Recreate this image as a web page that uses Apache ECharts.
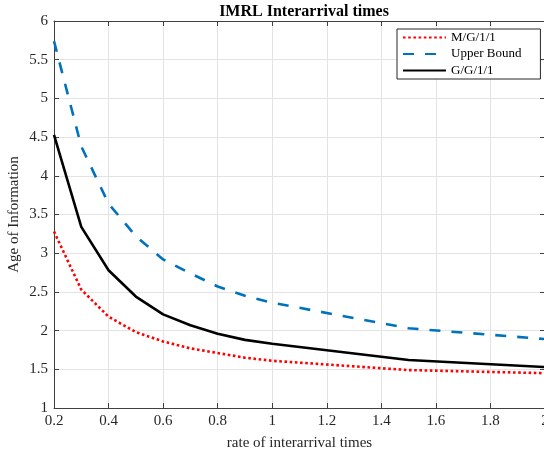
<!DOCTYPE html>
<html>
<head>
<meta charset="utf-8">
<script src="https://cdn.jsdelivr.net/npm/echarts@6/dist/echarts.min.js"></script>
<style>html,body{margin:0;padding:0;background:#fff;}#c{width:544px;height:457px;}</style>
</head>
<body>
<div id="c"></div>
<script>
var rates = [0.2, 0.3, 0.4, 0.5, 0.6, 0.7, 0.8, 0.9, 1.0, 1.5, 2.0];
var mg11 = [3.28, 2.53, 2.18, 1.98, 1.86, 1.77, 1.71, 1.65, 1.61, 1.49, 1.45];
var upperBound = [5.74, 4.38, 3.64, 3.22, 2.92, 2.74, 2.57, 2.45, 2.36, 2.03, 1.89];
var gg11 = [4.53, 3.34, 2.78, 2.44, 2.21, 2.07, 1.96, 1.88, 1.83, 1.62, 1.53];
var seriesNames = ['M/G/1/1', 'Upper Bound', 'G/G/1/1'];
var titleText = 'IMRL Interarrival times';
var xName = 'rate of interarrival times';
var yName = 'Age of Information';

function pairs(xs, ys) { return xs.map(function (x, i) { return [x, ys[i]]; }); }

var font = 'Liberation Serif';
var axisColor = '#404040';
var gridColor = '#e3e3e3';

var chart = echarts.init(document.getElementById('c'), null, {renderer: 'canvas'});
chart.setOption({
  animation: false,
  backgroundColor: '#ffffff',
  title: {
    text: titleText,
    left: 299,
    textAlign: 'center',
    top: -1,
    textStyle: {fontFamily: font, fontSize: 16, fontWeight: 'bold', color: '#000'}
  },
  grid: {left: 54, right: -1, top: 21, bottom: 49, containLabel: false, outerBoundsMode: 'none'},
  legend: {
    orient: 'vertical',
    left: 397,
    top: 29,
    padding: [2, 19, 2, 5],
    itemGap: 3.5,
    itemWidth: 43,
    itemHeight: 14,
    backgroundColor: '#fff',
    borderColor: '#262626',
    borderWidth: 1,
    borderRadius: 0,
    itemStyle: {opacity: 0},
    textStyle: {fontFamily: font, fontSize: 13, color: '#000'},
    data: seriesNames
  },
  xAxis: [{
    type: 'value', min: 0.2, max: 2, interval: 0.2,
    name: xName, nameLocation: 'middle', nameGap: 28, nameMoveOverlap: false,
    nameTextStyle: {fontFamily: font, fontSize: 15, color: '#262626'},
    axisLine: {show: true, onZero: false, lineStyle: {color: axisColor, width: 1}},
    axisTick: {show: true, inside: true, length: 5, lineStyle: {color: axisColor}},
    axisLabel: {fontFamily: font, fontSize: 15, color: '#262626', margin: 6,
      formatter: function (v) { return String(Math.round(v * 10) / 10); }},
    splitLine: {show: true, lineStyle: {color: gridColor, width: 1}}
  }, {
    type: 'value', min: 0.2, max: 2, interval: 0.2, position: 'top',
    axisLine: {show: true, onZero: false, lineStyle: {color: axisColor, width: 1}},
    axisTick: {show: true, inside: true, length: 5, lineStyle: {color: axisColor}},
    axisLabel: {show: false}, splitLine: {show: false}
  }],
  yAxis: [{
    type: 'value', min: 1, max: 6, interval: 0.5,
    name: yName, nameLocation: 'middle', nameGap: 32, nameRotate: 90, nameMoveOverlap: false,
    nameTextStyle: {fontFamily: font, fontSize: 15, color: '#262626'},
    axisLine: {show: true, onZero: false, lineStyle: {color: axisColor, width: 1}},
    axisTick: {show: true, inside: true, length: 5, lineStyle: {color: axisColor}},
    axisLabel: {fontFamily: font, fontSize: 15, color: '#262626', margin: 6,
      formatter: function (v) { return String(Math.round(v * 10) / 10); }},
    splitLine: {show: true, lineStyle: {color: gridColor, width: 1}}
  }, {
    type: 'value', min: 1, max: 6, interval: 0.5, position: 'right',
    axisLine: {show: true, onZero: false, lineStyle: {color: axisColor, width: 1}},
    axisTick: {show: true, inside: true, length: 5, lineStyle: {color: axisColor}},
    axisLabel: {show: false}, splitLine: {show: false}
  }],
  series: [{
    name: seriesNames[0], type: 'line', data: pairs(rates, mg11),
    symbol: 'none', showSymbol: false, smooth: false,
    lineStyle: {color: '#ff0000', width: 2.6, type: [2.6, 2.6], cap: 'butt'},
    itemStyle: {color: '#ff0000'}, z: 3
  }, {
    name: seriesNames[1], type: 'line', data: pairs(rates, upperBound),
    symbol: 'none', showSymbol: false,
    lineStyle: {color: '#0072bd', width: 2.6, type: [11, 11], cap: 'butt'},
    itemStyle: {color: '#0072bd'}, z: 3
  }, {
    name: seriesNames[2], type: 'line', data: pairs(rates, gg11),
    symbol: 'none', showSymbol: false,
    lineStyle: {color: '#000000', width: 2.6, type: 'solid'},
    itemStyle: {color: '#000000'}, z: 3
  }]
});
</script>
</body>
</html>
